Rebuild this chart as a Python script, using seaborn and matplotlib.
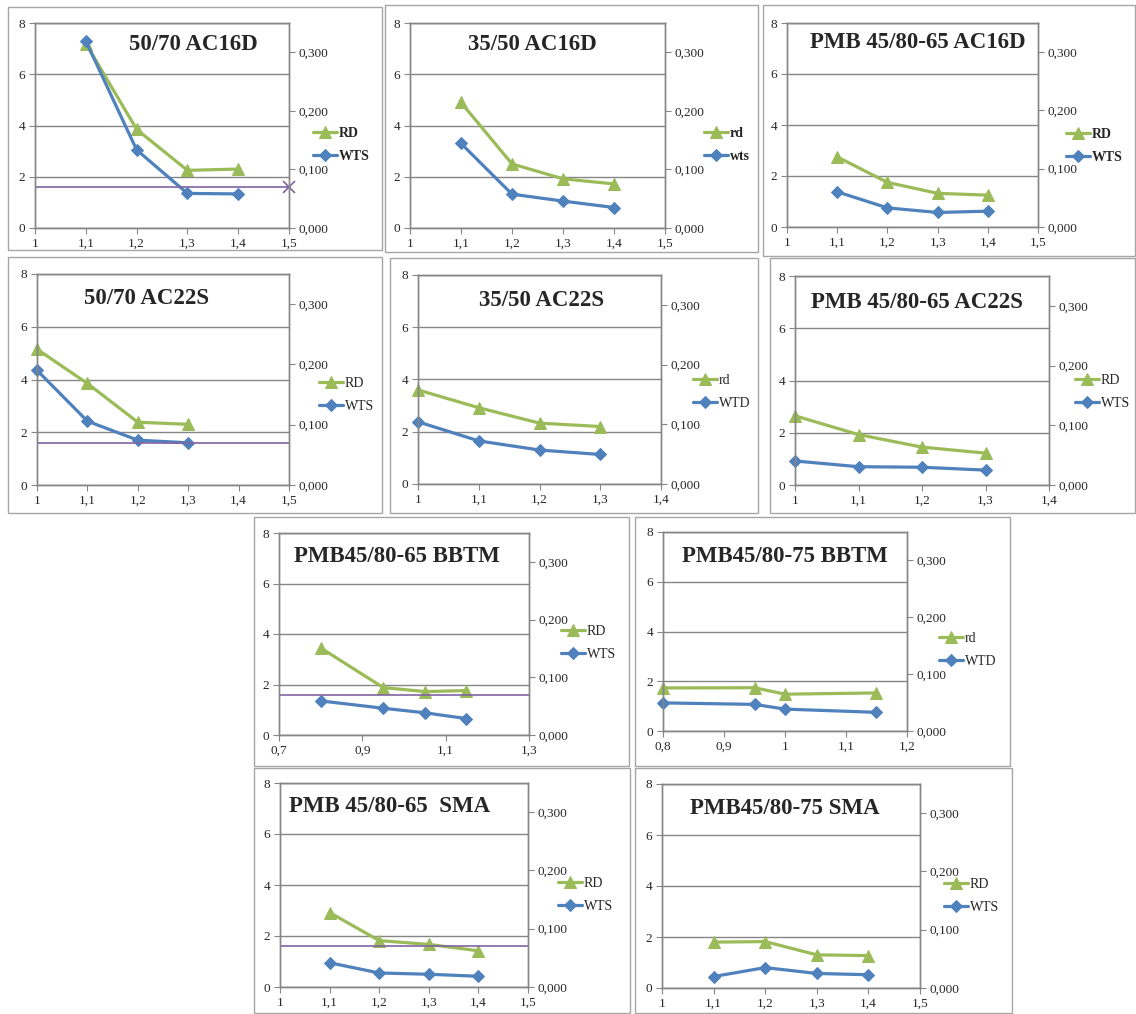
import matplotlib
matplotlib.use('Agg')
import matplotlib.pyplot as plt
import seaborn as sns
from matplotlib.patches import Rectangle

sns.set_style('white')
plt.rcParams['font.family'] = ['Liberation Serif', 'DejaVu Serif']

GREEN = '#9bbb59'
BLUE = '#4f81bd'
PURPLE = '#8064a2'
GRID = '#868686'

W, H = 1136, 1014

# ---- data ----
titles = ['50/70 AC16D', '35/50 AC16D', 'PMB 45/80-65 AC16D',
          '50/70 AC22S', '35/50 AC22S', 'PMB 45/80-65 AC22S',
          'PMB45/80-65 BBTM', 'PMB45/80-75 BBTM',
          'PMB 45/80-65  SMA', 'PMB45/80-75 SMA']

x_ac16 = [1.1, 1.2, 1.3, 1.4]
x_ac22 = [1.0, 1.1, 1.2, 1.3]
x_bbtm65 = [0.8, 0.95, 1.05, 1.15]
x_bbtm75 = [0.8, 0.95, 1.0, 1.15]
x_sma = [1.1, 1.2, 1.3, 1.4]

rd_5070_ac16 = [7.2, 3.85, 2.25, 2.3]
wts_5070_ac16 = [7.3, 3.05, 1.35, 1.33]
rd_3550_ac16 = [4.9, 2.5, 1.92, 1.72]
wts_3550_ac16 = [3.3, 1.32, 1.05, 0.8]
rd_pmb_ac16 = [2.75, 1.75, 1.32, 1.25]
wts_pmb_ac16 = [1.38, 0.75, 0.57, 0.62]

rd_5070_ac22 = [5.15, 3.85, 2.38, 2.3]
wts_5070_ac22 = [4.35, 2.42, 1.7, 1.6]
rd_3550_ac22 = [3.6, 2.92, 2.33, 2.2]
wts_3550_ac22 = [2.38, 1.65, 1.3, 1.13]
rd_pmb_ac22 = [2.65, 1.93, 1.45, 1.22]
wts_pmb_ac22 = [0.92, 0.7, 0.68, 0.57]

rd_bbtm65 = [3.45, 1.88, 1.72, 1.76]
wts_bbtm65 = [1.35, 1.06, 0.88, 0.65]
rd_bbtm75 = [1.73, 1.74, 1.48, 1.53]
wts_bbtm75 = [1.13, 1.07, 0.88, 0.75]

rd_sma65 = [2.92, 1.82, 1.67, 1.42]
wts_sma65 = [0.95, 0.55, 0.5, 0.42]
rd_sma75 = [1.8, 1.82, 1.3, 1.27]
wts_sma75 = [0.45, 0.8, 0.57, 0.52]

legend_rd = ['RD', 'rd', 'RD', 'RD', 'rd', 'RD', 'RD', 'rd', 'RD', 'RD']
legend_wts = ['WTS', 'wts', 'WTS', 'WTS', 'WTD', 'WTS', 'WTS', 'WTD', 'WTS', 'WTS']

LIMIT = 0.07  # secondary axis
y_right_ticks = [0.0, 0.1, 0.2, 0.3]

xs = [x_ac16, x_ac16, x_ac16, x_ac22, x_ac22, x_ac22, x_bbtm65, x_bbtm75, x_sma, x_sma]
rds = [rd_5070_ac16, rd_3550_ac16, rd_pmb_ac16, rd_5070_ac22, rd_3550_ac22, rd_pmb_ac22,
       rd_bbtm65, rd_bbtm75, rd_sma65, rd_sma75]
wtss = [wts_5070_ac16, wts_3550_ac16, wts_pmb_ac16, wts_5070_ac22, wts_3550_ac22, wts_pmb_ac22,
        wts_bbtm65, wts_bbtm75, wts_sma65, wts_sma75]
xlims = [(1, 1.5), (1, 1.5), (1, 1.5), (1, 1.5), (1, 1.4), (1, 1.4),
         (0.7, 1.3), (0.8, 1.2), (1, 1.5), (1, 1.5)]
xsteps = [0.1, 0.1, 0.1, 0.1, 0.1, 0.1, 0.2, 0.1, 0.1, 0.1]
has_limit = [True, False, False, True, False, False, True, False, True, False]

# ---- layout in pixels ----
plot_boxes = [(35, 23, 289, 228), (410, 23, 665, 228), (787, 23, 1038, 227),
              (37, 274, 289, 485), (418, 275, 661, 484), (795, 276, 1049, 485),
              (279, 533, 529, 735), (663, 532, 907, 731),
              (280, 783, 528, 987), (662, 784, 920, 988)]
frames = [(8, 7, 382, 250), (385, 5, 758, 252), (763, 5, 1135, 256),
          (8, 257, 382, 513), (390, 258, 758, 513), (770, 258, 1135, 513),
          (254, 517, 629, 766), (635, 517, 1010, 766),
          (254, 768, 630, 1013), (635, 768, 1012, 1013)]
title_pos = [(193, 45), (532, 45), (918, 43), (147, 298), (542, 300), (917, 302),
             (397, 557), (785, 556), (390, 806), (785, 808)]
legend_pos = [(306, 145), (697, 145), (1059, 146), (312, 395), (686, 392), (1068, 392),
              (554, 643), (932, 650), (551, 895), (937, 896)]
legend_bold = [True, True, True, False, False, False, False, False, False, False]


def fmt_x(v):
    return ('%g' % round(v, 2)).replace('.', ',')


fig = plt.figure(figsize=(W / 100, H / 100), dpi=100)

for i in range(10):
    x0, y0, x1, y1 = plot_boxes[i]
    ax = fig.add_axes([x0 / W, 1 - y1 / H, (x1 - x0) / W, (y1 - y0) / H])

    sns.lineplot(x=xs[i], y=rds[i], ax=ax, color=GREEN, lw=2.3, marker='^',
                 markersize=9, markeredgecolor=GREEN, label=legend_rd[i],
                 clip_on=False)
    sns.lineplot(x=xs[i], y=wtss[i], ax=ax, color=BLUE, lw=2.3, marker='D',
                 markersize=6.5, markeredgecolor=BLUE, label=legend_wts[i],
                 clip_on=False)

    lo, hi = xlims[i]
    ax.set_xlim(lo, hi)
    ax.set_ylim(0, 8)
    n = int(round((hi - lo) / xsteps[i]))
    ticks = [lo + k * xsteps[i] for k in range(n + 1)]
    ax.set_xticks(ticks)
    ax.set_xticklabels([fmt_x(t) for t in ticks])
    ax.set_yticks([0, 2, 4, 6, 8])
    ax.yaxis.grid(True, color=GRID, lw=1)
    ax.set_xlabel('')
    ax.set_ylabel('')
    ax.tick_params(axis='both', direction='out', length=4, color=GRID,
                   labelsize=9.5, pad=3, bottom=True, left=True)
    for s in ax.spines.values():
        s.set_color(GRID)
        s.set_linewidth(1)

    ax2 = ax.twinx()
    ax2.set_ylim(0, 0.35)
    ax2.set_yticks(y_right_ticks)
    ax2.set_yticklabels([('%.3f' % v).replace('.', ',') for v in y_right_ticks])
    ax2.tick_params(axis='y', direction='out', length=4, color=GRID,
                    labelsize=9.5, pad=3, right=True)
    for s in ax2.spines.values():
        s.set_color(GRID)
        s.set_linewidth(1)
    if has_limit[i]:
        ax2.axhline(LIMIT, color=PURPLE, lw=1.2)
        if i == 0:
            ax2.plot([hi], [LIMIT], marker='x', color=PURPLE, markersize=9,
                     mew=1.2, clip_on=False)

    h, l = ax.get_legend_handles_labels()
    lx, ly = legend_pos[i]
    ax.legend(h, l, loc='center left', bbox_to_anchor=(lx / W, 1 - ly / H),
              bbox_transform=fig.transFigure, frameon=False, borderpad=0,
              handlelength=1.7, handletextpad=0.15, labelspacing=0.75,
              prop={'size': 10, 'weight': 'bold' if legend_bold[i] else 'normal',
                    'family': ['Liberation Serif']})

    tx, ty = title_pos[i]
    fig.text(tx / W, 1 - ty / H, titles[i], ha='center', va='center',
             fontsize=16.5, fontweight='bold')

    fx0, fy0, fx1, fy1 = frames[i]
    fig.add_artist(Rectangle((fx0 / W, 1 - fy1 / H), (fx1 - fx0) / W, (fy1 - fy0) / H,
                             transform=fig.transFigure, fill=False,
                             ec='#a6a6a6', lw=1))

fig.savefig('out.png', dpi=100, facecolor='white')
